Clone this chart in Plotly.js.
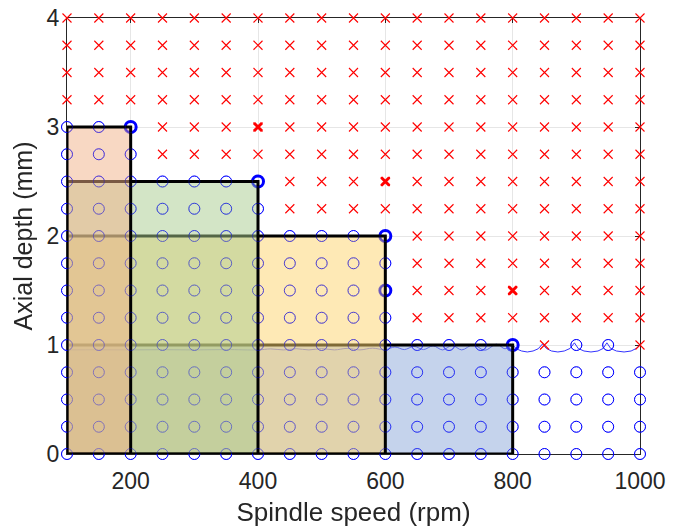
<!DOCTYPE html>
<html><head><meta charset="utf-8">
<script src="https://cdn.plot.ly/plotly-3.0.1.min.js"></script>
<style>html,body{margin:0;padding:0;background:#fff}</style>
</head><body><div id="chart" style="width:680px;height:530px"></div>
<script>
// Grid of test points
const speeds = [100,150,200,250,300,350,400,450,500,550,600,650,700,750,800,850,900,950,1000];
const depths = [0,0.25,0.5,0.75,1,1.25,1.5,1.75,2,2.25,2.5,2.75,3,3.25,3.5,3.75,4];
// highest stable depth at each speed
const stableLimit = [3,3,3,2.5,2.5,2.5,2.5,2,2,2,2,1,1,1,1,0.75,1,1,0.75];

// highlighted points
const boldStableX = [200,400,600,600,800];
const boldStableY = [3,2.5,2,1.5,1];
const boldUnstableX = [400,600,800];
const boldUnstableY = [3,2.5,1.5];

// stable regions (drawn bottom to top)
const rectEnd = [800,600,400,200];
const rectDepth = [1,2,2.5,3];
const rectColor = ['rgba(139,167,217,0.5)','rgba(253,211,107,0.5)','rgba(167,203,141,0.5)','rgba(241,177,135,0.5)'];
const rectStart = 100;

// stability lobe boundary
const lobeX1 = [100,150,200,250,300,350,400,420,440,460,480,500,520,540,560,580,600,615,630,645,660,675,690,705,720,738,756,775,788,800];
const lobeY1 = [0.955,0.956,0.955,0.957,0.955,0.958,0.955,0.964,0.955,0.966,0.955,0.967,0.955,0.969,0.955,0.971,0.956,0.982,0.958,0.988,0.958,0.992,0.955,0.997,0.955,1.002,0.952,1.007,0.965,1.0];
const lobeX2 = [800,806,814,823,832,840,847,853,861,871,881,890,897,903,912,923,934,942,948,954,963,975,986,994,1000];
const lobeY2 = [1.0,0.965,0.945,0.936,0.945,0.965,1.01,0.968,0.945,0.936,0.945,0.968,1.02,0.968,0.945,0.936,0.945,0.968,1.02,0.968,0.945,0.936,0.945,0.968,1.0];

const sx=[], sy=[], ux=[], uy=[];
speeds.forEach((s,i)=>{
  depths.forEach(d=>{
    if (d <= stableLimit[i]) { sx.push(s); sy.push(d); } else { ux.push(s); uy.push(d); }
  });
});

const circ = {symbol:'circle-open', size:11, color:'#0000ff', line:{width:1, color:'#0000ff'}};
const traces = [];
traces.push({x:lobeX1, y:lobeY1, mode:'lines', line:{color:'#3333ff', width:1, shape:'spline'}, hoverinfo:'skip'});
traces.push({x:lobeX2, y:lobeY2, mode:'lines', line:{color:'#3333ff', width:1}, hoverinfo:'skip'});
traces.push({x:sx, y:sy, mode:'markers', cliponaxis:false, marker:circ});
traces.push({x:ux, y:uy, mode:'markers', cliponaxis:false,
  marker:{symbol:'x-thin-open', size:9, color:'#ff0000', line:{width:1.1, color:'#ff0000'}}});
traces.push({x:boldStableX, y:boldStableY, mode:'markers', cliponaxis:false,
  marker:{symbol:'circle-open', size:11, color:'#0000ff', line:{width:3, color:'#0000ff'}}});
traces.push({x:boldUnstableX, y:boldUnstableY, mode:'markers', cliponaxis:false,
  marker:{symbol:'x-thin-open', size:8, color:'#ff0000', line:{width:3, color:'#ff0000'}}});
rectEnd.forEach((e,i)=>{
  traces.push({x:[rectStart,rectStart,e,e,rectStart], y:[0,rectDepth[i],rectDepth[i],0,0],
    mode:'lines', fill:'toself', fillcolor:rectColor[i], cliponaxis:false,
    line:{color:'#000000', width:3}, hoverinfo:'skip'});
});
// faint overlay so circles stay visible through the shaded regions
traces.push({x:sx, y:sy, mode:'markers', cliponaxis:false, opacity:0.35, marker:circ});

const font = {family:'"Liberation Sans", Arial, sans-serif', color:'#262626'};
const layout = {
  width:680, height:530, showlegend:false,
  paper_bgcolor:'#ffffff', plot_bgcolor:'#ffffff',
  margin:{l:67, r:40, t:18, b:76},
  xaxis:{range:[100,1000], tickvals:[200,400,600,800,1000], ticks:'inside', ticklen:5, tickcolor:'#262626',
    showline:true, linecolor:'#262626', linewidth:1, mirror:'ticks', showgrid:true, gridcolor:'#e6e6e6', zeroline:false,
    layer:'below traces',
    tickfont:Object.assign({size:23}, font), ticklabelstandoff:6,
    title:{text:'Spindle speed (rpm)', font:Object.assign({size:26}, font), standoff:10}},
  yaxis:{range:[0,4], tickvals:[0,1,2,3,4], ticks:'inside', ticklen:5, tickcolor:'#262626',
    showline:true, linecolor:'#262626', linewidth:1, mirror:'ticks', showgrid:true, gridcolor:'#e6e6e6', zeroline:false,
    layer:'below traces',
    tickfont:Object.assign({size:23}, font), ticklabelstandoff:2,
    title:{text:'Axial depth (mm)', font:Object.assign({size:25}, font), standoff:6}}
};
Plotly.newPlot('chart', traces, layout, {staticPlot:true, displayModeBar:false});
</script></body></html>
